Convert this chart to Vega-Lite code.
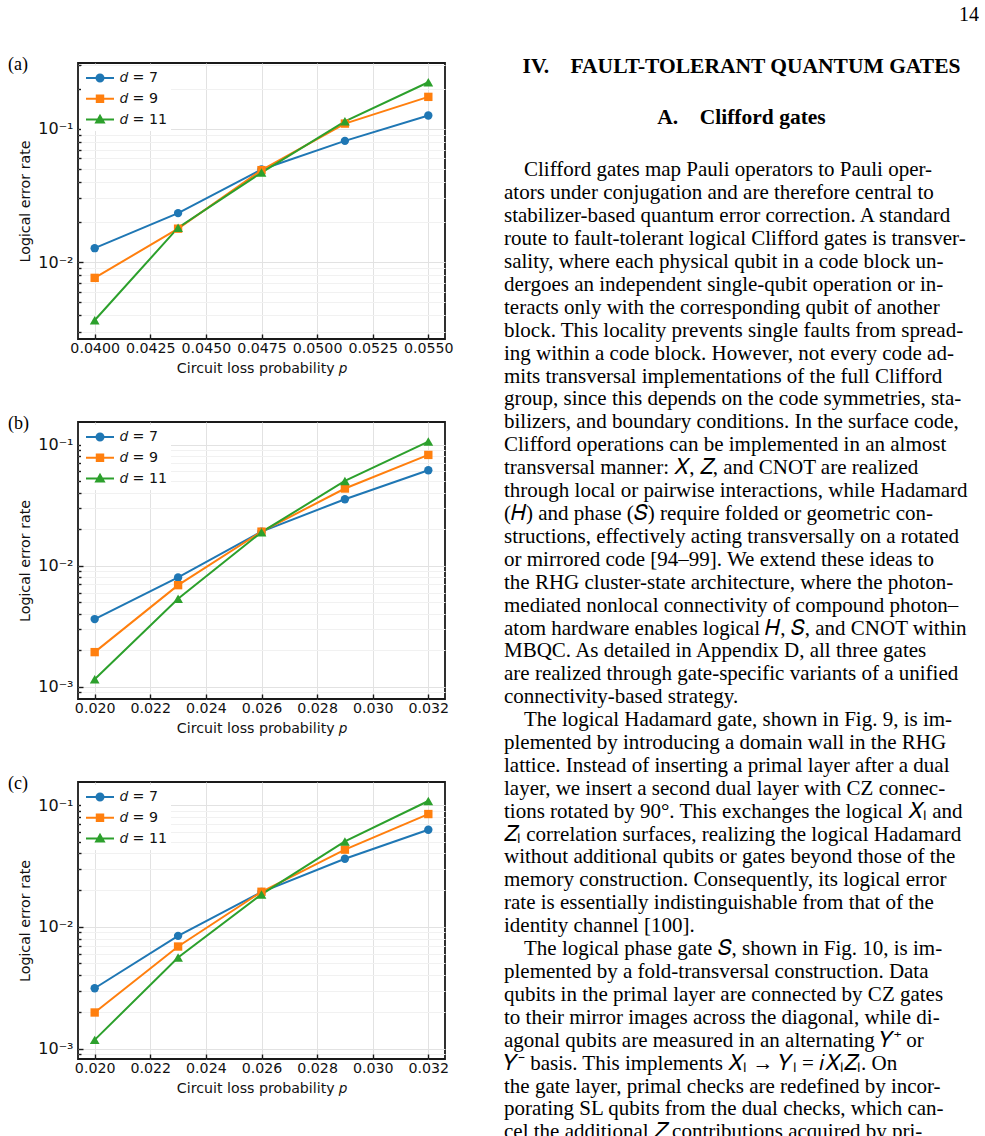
{
  "$schema": "https://vega.github.io/schema/vega-lite/v6.json",
  "background": "white",
  "padding": {"left": 7, "top": 5, "right": 0, "bottom": 0},
  "columns": 2,
  "bounds": "flush",
  "align": "each",
  "spacing": {"row": 83, "column": 59},
  "config": {
    "view": {"stroke": "#1a1a1a", "strokeWidth": 1.8},
    "axis": {"domain": false, "tickSize": -5, "tickWidth": 1.4, "tickColor": "#1a1a1a", "labelFont": "DejaVu Sans", "labelFontSize": 14.2, "labelColor": "#111", "titleFont": "DejaVu Sans", "titleFontSize": 14.2, "titleFontWeight": "normal", "titleColor": "#111", "gridColor": "#e2e2e2", "gridWidth": 1, "labelFlush": false, "labelOverlap": false},
    "axisX": {"labelPadding": 7, "titlePadding": 6},
    "axisY": {"labelPadding": 10, "titlePadding": 5, "labelFontSize": 16},
    "legend": {"orient": "top-left", "offset": 3, "padding": 4, "fillColor": "white", "strokeColor": null, "labelFont": "DejaVu Sans", "labelFontSize": 14.2, "labelColor": "#111", "labelOffset": 19, "rowPadding": 4.8, "symbolSize": 196, "symbolStrokeWidth": 2, "symbolOpacity": 1},
    "title": {"anchor": "start", "frame": "group", "dx": -70, "dy": 14.5, "offset": 0, "baseline": "alphabetic", "font": "Liberation Serif", "fontSize": 18, "fontWeight": "normal", "color": "#000"}
  },
  "datasets": {
    "a": [
      {"p": 0.04, "d": 7, "ler": 0.0127}, {"p": 0.04375, "d": 7, "ler": 0.0233}, {"p": 0.0475, "d": 7, "ler": 0.0495}, {"p": 0.05125, "d": 7, "ler": 0.0813}, {"p": 0.055, "d": 7, "ler": 0.126},
      {"p": 0.04, "d": 9, "ler": 0.0076}, {"p": 0.04375, "d": 9, "ler": 0.0178}, {"p": 0.0475, "d": 9, "ler": 0.049}, {"p": 0.05125, "d": 9, "ler": 0.1096}, {"p": 0.055, "d": 9, "ler": 0.174},
      {"p": 0.04, "d": 11, "ler": 0.00365}, {"p": 0.04375, "d": 11, "ler": 0.0181}, {"p": 0.0475, "d": 11, "ler": 0.047}, {"p": 0.05125, "d": 11, "ler": 0.114}, {"p": 0.055, "d": 11, "ler": 0.224}
    ],
    "b": [
      {"p": 0.02, "d": 7, "ler": 0.00362}, {"p": 0.023, "d": 7, "ler": 0.00799}, {"p": 0.026, "d": 7, "ler": 0.0191}, {"p": 0.029, "d": 7, "ler": 0.0354}, {"p": 0.032, "d": 7, "ler": 0.0614},
      {"p": 0.02, "d": 9, "ler": 0.00193}, {"p": 0.023, "d": 9, "ler": 0.0069}, {"p": 0.026, "d": 9, "ler": 0.0191}, {"p": 0.029, "d": 9, "ler": 0.0434}, {"p": 0.032, "d": 9, "ler": 0.0822},
      {"p": 0.02, "d": 11, "ler": 0.00115}, {"p": 0.023, "d": 11, "ler": 0.00532}, {"p": 0.026, "d": 11, "ler": 0.0189}, {"p": 0.029, "d": 11, "ler": 0.0501}, {"p": 0.032, "d": 11, "ler": 0.106}
    ],
    "c": [
      {"p": 0.02, "d": 7, "ler": 0.00313}, {"p": 0.023, "d": 7, "ler": 0.00843}, {"p": 0.026, "d": 7, "ler": 0.0193}, {"p": 0.029, "d": 7, "ler": 0.0362}, {"p": 0.032, "d": 7, "ler": 0.0627},
      {"p": 0.02, "d": 9, "ler": 0.00198}, {"p": 0.023, "d": 9, "ler": 0.00689}, {"p": 0.026, "d": 9, "ler": 0.0194}, {"p": 0.029, "d": 9, "ler": 0.043}, {"p": 0.032, "d": 9, "ler": 0.0843},
      {"p": 0.02, "d": 11, "ler": 0.00118}, {"p": 0.023, "d": 11, "ler": 0.0056}, {"p": 0.026, "d": 11, "ler": 0.01845}, {"p": 0.029, "d": 11, "ler": 0.0502}, {"p": 0.032, "d": 11, "ler": 0.1079}
    ],
    "text": [
      {"line": -6.79, "kind": "page", "text": "14"},
      {"line": -4.53, "kind": "head", "text": "IV.\u2003FAULT-TOLERANT QUANTUM GATES"},
      {"line": -2.31, "kind": "head", "text": "A.\u2003Clifford gates"},
      {"line": 0, "kind": "first", "text": "Clifford gates map Pauli operators to Pauli oper-"},
      {"line": 1, "kind": "body", "text": "ators under conjugation and are therefore central to"},
      {"line": 2, "kind": "body", "text": "stabilizer-based quantum error correction. A standard"},
      {"line": 3, "kind": "body", "text": "route to fault-tolerant logical Clifford gates is transver-"},
      {"line": 4, "kind": "body", "text": "sality, where each physical qubit in a code block un-"},
      {"line": 5, "kind": "body", "text": "dergoes an independent single-qubit operation or in-"},
      {"line": 6, "kind": "body", "text": "teracts only with the corresponding qubit of another"},
      {"line": 7, "kind": "body", "text": "block. This locality prevents single faults from spread-"},
      {"line": 8, "kind": "body", "text": "ing within a code block. However, not every code ad-"},
      {"line": 9, "kind": "body", "text": "mits transversal implementations of the full Clifford"},
      {"line": 10, "kind": "body", "text": "group, since this depends on the code symmetries, sta-"},
      {"line": 11, "kind": "body", "text": "bilizers, and boundary conditions. In the surface code,"},
      {"line": 12, "kind": "body", "text": "Clifford operations can be implemented in an almost"},
      {"line": 13, "kind": "body", "text": "transversal manner: 𝑋, 𝑍, and CNOT are realized"},
      {"line": 14, "kind": "body", "text": "through local or pairwise interactions, while Hadamard"},
      {"line": 15, "kind": "body", "text": "(𝐻) and phase (𝑆) require folded or geometric con-"},
      {"line": 16, "kind": "body", "text": "structions, effectively acting transversally on a rotated"},
      {"line": 17, "kind": "body", "text": "or mirrored code [94–99]. We extend these ideas to"},
      {"line": 18, "kind": "body", "text": "the RHG cluster-state architecture, where the photon-"},
      {"line": 19, "kind": "body", "text": "mediated nonlocal connectivity of compound photon–"},
      {"line": 20, "kind": "body", "text": "atom hardware enables logical 𝐻, 𝑆, and CNOT within"},
      {"line": 21, "kind": "body", "text": "MBQC. As detailed in Appendix D, all three gates"},
      {"line": 22, "kind": "body", "text": "are realized through gate-specific variants of a unified"},
      {"line": 23, "kind": "body", "text": "connectivity-based strategy."},
      {"line": 24, "kind": "first", "text": "The logical Hadamard gate, shown in Fig. 9, is im-"},
      {"line": 25, "kind": "body", "text": "plemented by introducing a domain wall in the RHG"},
      {"line": 26, "kind": "body", "text": "lattice. Instead of inserting a primal layer after a dual"},
      {"line": 27, "kind": "body", "text": "layer, we insert a second dual layer with CZ connec-"},
      {"line": 28, "kind": "body", "text": "tions rotated by 90°. This exchanges the logical 𝑋ₗ and"},
      {"line": 29, "kind": "body", "text": "𝑍ₗ correlation surfaces, realizing the logical Hadamard"},
      {"line": 30, "kind": "body", "text": "without additional qubits or gates beyond those of the"},
      {"line": 31, "kind": "body", "text": "memory construction. Consequently, its logical error"},
      {"line": 32, "kind": "body", "text": "rate is essentially indistinguishable from that of the"},
      {"line": 33, "kind": "body", "text": "identity channel [100]."},
      {"line": 34, "kind": "first", "text": "The logical phase gate 𝑆, shown in Fig. 10, is im-"},
      {"line": 35, "kind": "body", "text": "plemented by a fold-transversal construction. Data"},
      {"line": 36, "kind": "body", "text": "qubits in the primal layer are connected by CZ gates"},
      {"line": 37, "kind": "body", "text": "to their mirror images across the diagonal, while di-"},
      {"line": 38, "kind": "body", "text": "agonal qubits are measured in an alternating 𝑌⁺ or"},
      {"line": 39, "kind": "body", "text": "𝑌⁻ basis. This implements 𝑋ₗ → 𝑌ₗ = 𝑖𝑋ₗ𝑍ₗ. On"},
      {"line": 40, "kind": "body", "text": "the gate layer, primal checks are redefined by incor-"},
      {"line": 41, "kind": "body", "text": "porating SL qubits from the dual checks, which can-"},
      {"line": 42, "kind": "body", "text": "cel the additional 𝑍 contributions acquired by pri-"}
    ]
  },
  "concat": [
    {
      "title": "(a)",
      "width": 367, "height": 276,
      "data": {"name": "a"},
      "layer": [
        {"mark": {"type": "line", "strokeWidth": 2},
         "encoding": {
           "x": {"field": "p", "type": "quantitative", "scale": {"domain": [0.03925, 0.05575], "nice": false, "zero": false}, "axis": {"values": [0.04, 0.0425, 0.045, 0.0475, 0.05, 0.0525, 0.055], "format": ".4f", "title": "Circuit loss probability 𝑝", "grid": true}},
           "y": {"field": "ler", "type": "quantitative", "scale": {"type": "log", "domain": [0.00264, 0.3126], "nice": false}, "axis": {"orient": "left", "values": [0.01, 0.1], "labelExpr": "datum.value > 0.05 ? '10⁻¹' : datum.value > 0.005 ? '10⁻²' : '10⁻³'", "title": "Logical error rate", "grid": true}},
           "color": {"field": "d", "type": "nominal", "scale": {"domain": [7, 9, 11], "range": ["#1f77b4", "#ff7f0e", "#2ca02c"]}, "legend": null}
         }},
        {"mark": {"type": "point", "filled": true, "opacity": 1},
         "encoding": {
           "x": {"field": "p", "type": "quantitative", "axis": {"values": [0.04, 0.0425, 0.045, 0.0475, 0.05, 0.0525, 0.055], "format": ".4f", "title": "Circuit loss probability 𝑝", "grid": true}},
           "y": {"field": "ler", "type": "quantitative", "axis": {"orient": "left", "values": [0.003, 0.004, 0.005, 0.006, 0.007, 0.008, 0.009, 0.02, 0.03, 0.04, 0.05, 0.06, 0.07, 0.08, 0.09, 0.2, 0.3], "labels": false, "title": null, "tickSize": -3, "grid": true, "gridColor": "#f1f1f1"}},
           "color": {"field": "d", "type": "nominal", "scale": {"domain": [7, 9, 11], "range": ["#1f77b4", "#ff7f0e", "#2ca02c"]}, "legend": null},
           "shape": {"field": "d", "type": "nominal", "scale": {"domain": [7, 9, 11], "range": ["circle", "square", "triangle-up"]}, "legend": null},
           "size": {"condition": {"test": "datum.d === 11", "value": 95}, "value": 70}
         }},
        {"mark": {"type": "point", "filled": false, "opacity": 0, "strokeWidth": 2, "size": 196},
         "encoding": {
           "color": {"field": "d", "type": "nominal", "scale": {"range": ["#1f77b4", "#ff7f0e", "#2ca02c"]}, "legend": {"title": null, "labelExpr": "'𝑑 = ' + datum.label"}},
           "shape": {"field": "d", "type": "nominal", "scale": {"range": ["M-1,0H3M1.5,0A0.5,0.5,0,1,1,0.5,0A0.5,0.5,0,1,1,1.5,0ZM1.26,0A0.26,0.26,0,1,1,0.74,0A0.26,0.26,0,1,1,1.26,0ZM1.06,0A0.06,0.06,0,1,1,0.94,0A0.06,0.06,0,1,1,1.06,0Z", "M-1,0H3M0.54,-0.46H1.46V0.46H0.54ZM0.76,-0.24H1.24V0.24H0.76ZM0.96,-0.04H1.04V0.04H0.96Z", "M-1,0H3M1,-0.55L1.55,0.4H0.45ZM1,-0.23L1.275,0.242H0.725ZM1,-0.01L1.08,0.13H0.92Z"]}, "legend": {"title": null, "labelExpr": "'𝑑 = ' + datum.label"}}
         }}
      ],
      "resolve": {"scale": {"shape": "independent", "color": "independent"}, "axis": {"y": "independent"}}
    },
    {
      "width": 475, "height": 276,
      "view": {"stroke": null},
      "data": {"name": "text"},
      "transform": [{"filter": "datum.line < 17"}],
      "encoding": {"y": {"field": "line", "type": "quantitative", "scale": {"domain": [-4.9563, 7.0961], "reverse": true, "zero": false, "nice": false}, "axis": null}},
      "layer": [
        {"transform": [{"filter": "datum.kind === 'body'"}], "mark": {"type": "text", "align": "left", "baseline": "alphabetic", "font": "Liberation Serif", "fontSize": 21, "color": "#000"}, "encoding": {"x": {"datum": 0, "type": "quantitative", "scale": {"domain": [0, 1]}, "axis": null}, "text": {"field": "text"}}},
        {"transform": [{"filter": "datum.kind === 'first'"}], "mark": {"type": "text", "align": "left", "baseline": "alphabetic", "font": "Liberation Serif", "fontSize": 21, "color": "#000"}, "encoding": {"x": {"datum": 0.0421, "type": "quantitative", "scale": {"domain": [0, 1]}, "axis": null}, "text": {"field": "text"}}},
        {"transform": [{"filter": "datum.kind === 'head'"}], "mark": {"type": "text", "align": "center", "baseline": "alphabetic", "font": "Liberation Serif", "fontSize": 21.5, "fontWeight": "bold", "color": "#000"}, "encoding": {"x": {"datum": 0.5, "type": "quantitative", "scale": {"domain": [0, 1]}, "axis": null}, "text": {"field": "text"}}},
        {"transform": [{"filter": "datum.kind === 'page'"}], "mark": {"type": "text", "align": "right", "baseline": "alphabetic", "font": "Liberation Serif", "fontSize": 20, "color": "#000"}, "encoding": {"x": {"datum": 1, "type": "quantitative", "scale": {"domain": [0, 1]}, "axis": null}, "text": {"field": "text"}}}
      ]
    },
    {
      "title": "(b)",
      "width": 367, "height": 277,
      "data": {"name": "b"},
      "layer": [
        {"mark": {"type": "line", "strokeWidth": 2},
         "encoding": {
           "x": {"field": "p", "type": "quantitative", "scale": {"domain": [0.0194, 0.0326], "nice": false, "zero": false}, "axis": {"values": [0.02, 0.022, 0.024, 0.026, 0.028, 0.03, 0.032], "format": ".3f", "title": "Circuit loss probability 𝑝", "grid": true}},
           "y": {"field": "ler", "type": "quantitative", "scale": {"type": "log", "domain": [0.000791, 0.1538], "nice": false}, "axis": {"orient": "left", "values": [0.001, 0.01, 0.1], "labelExpr": "datum.value > 0.05 ? '10⁻¹' : datum.value > 0.005 ? '10⁻²' : '10⁻³'", "title": "Logical error rate", "grid": true}},
           "color": {"field": "d", "type": "nominal", "scale": {"domain": [7, 9, 11], "range": ["#1f77b4", "#ff7f0e", "#2ca02c"]}, "legend": null}
         }},
        {"mark": {"type": "point", "filled": true, "opacity": 1},
         "encoding": {
           "x": {"field": "p", "type": "quantitative", "axis": {"values": [0.02, 0.022, 0.024, 0.026, 0.028, 0.03, 0.032], "format": ".3f", "title": "Circuit loss probability 𝑝", "grid": true}},
           "y": {"field": "ler", "type": "quantitative", "axis": {"orient": "left", "values": [0.0009, 0.002, 0.003, 0.004, 0.005, 0.006, 0.007, 0.008, 0.009, 0.02, 0.03, 0.04, 0.05, 0.06, 0.07, 0.08, 0.09], "labels": false, "title": null, "tickSize": -3, "grid": true, "gridColor": "#f1f1f1"}},
           "color": {"field": "d", "type": "nominal", "scale": {"domain": [7, 9, 11], "range": ["#1f77b4", "#ff7f0e", "#2ca02c"]}, "legend": null},
           "shape": {"field": "d", "type": "nominal", "scale": {"domain": [7, 9, 11], "range": ["circle", "square", "triangle-up"]}, "legend": null},
           "size": {"condition": {"test": "datum.d === 11", "value": 95}, "value": 70}
         }},
        {"mark": {"type": "point", "filled": false, "opacity": 0, "strokeWidth": 2, "size": 196},
         "encoding": {
           "color": {"field": "d", "type": "nominal", "scale": {"range": ["#1f77b4", "#ff7f0e", "#2ca02c"]}, "legend": {"title": null, "labelExpr": "'𝑑 = ' + datum.label"}},
           "shape": {"field": "d", "type": "nominal", "scale": {"range": ["M-1,0H3M1.5,0A0.5,0.5,0,1,1,0.5,0A0.5,0.5,0,1,1,1.5,0ZM1.26,0A0.26,0.26,0,1,1,0.74,0A0.26,0.26,0,1,1,1.26,0ZM1.06,0A0.06,0.06,0,1,1,0.94,0A0.06,0.06,0,1,1,1.06,0Z", "M-1,0H3M0.54,-0.46H1.46V0.46H0.54ZM0.76,-0.24H1.24V0.24H0.76ZM0.96,-0.04H1.04V0.04H0.96Z", "M-1,0H3M1,-0.55L1.55,0.4H0.45ZM1,-0.23L1.275,0.242H0.725ZM1,-0.01L1.08,0.13H0.92Z"]}, "legend": {"title": null, "labelExpr": "'𝑑 = ' + datum.label"}}
         }}
      ],
      "resolve": {"scale": {"shape": "independent", "color": "independent"}, "axis": {"y": "independent"}}
    },
    {
      "width": 475, "height": 277,
      "view": {"stroke": null},
      "data": {"name": "text"},
      "transform": [{"filter": "datum.line >= 17 && datum.line < 34"}],
      "encoding": {"y": {"field": "line", "type": "quantitative", "scale": {"domain": [10.7205, 22.8166], "reverse": true, "zero": false, "nice": false}, "axis": null}},
      "layer": [
        {"transform": [{"filter": "datum.kind === 'body'"}], "mark": {"type": "text", "align": "left", "baseline": "alphabetic", "font": "Liberation Serif", "fontSize": 21, "color": "#000"}, "encoding": {"x": {"datum": 0, "type": "quantitative", "scale": {"domain": [0, 1]}, "axis": null}, "text": {"field": "text"}}},
        {"transform": [{"filter": "datum.kind === 'first'"}], "mark": {"type": "text", "align": "left", "baseline": "alphabetic", "font": "Liberation Serif", "fontSize": 21, "color": "#000"}, "encoding": {"x": {"datum": 0.0421, "type": "quantitative", "scale": {"domain": [0, 1]}, "axis": null}, "text": {"field": "text"}}}
      ]
    },
    {
      "title": "(c)",
      "width": 367, "height": 277,
      "data": {"name": "c"},
      "layer": [
        {"mark": {"type": "line", "strokeWidth": 2},
         "encoding": {
           "x": {"field": "p", "type": "quantitative", "scale": {"domain": [0.0194, 0.0326], "nice": false, "zero": false}, "axis": {"values": [0.02, 0.022, 0.024, 0.026, 0.028, 0.03, 0.032], "format": ".3f", "title": "Circuit loss probability 𝑝", "grid": true}},
           "y": {"field": "ler", "type": "quantitative", "scale": {"type": "log", "domain": [0.000822, 0.1545], "nice": false}, "axis": {"orient": "left", "values": [0.001, 0.01, 0.1], "labelExpr": "datum.value > 0.05 ? '10⁻¹' : datum.value > 0.005 ? '10⁻²' : '10⁻³'", "title": "Logical error rate", "grid": true}},
           "color": {"field": "d", "type": "nominal", "scale": {"domain": [7, 9, 11], "range": ["#1f77b4", "#ff7f0e", "#2ca02c"]}, "legend": null}
         }},
        {"mark": {"type": "point", "filled": true, "opacity": 1},
         "encoding": {
           "x": {"field": "p", "type": "quantitative", "axis": {"values": [0.02, 0.022, 0.024, 0.026, 0.028, 0.03, 0.032], "format": ".3f", "title": "Circuit loss probability 𝑝", "grid": true}},
           "y": {"field": "ler", "type": "quantitative", "axis": {"orient": "left", "values": [0.0009, 0.002, 0.003, 0.004, 0.005, 0.006, 0.007, 0.008, 0.009, 0.02, 0.03, 0.04, 0.05, 0.06, 0.07, 0.08, 0.09], "labels": false, "title": null, "tickSize": -3, "grid": true, "gridColor": "#f1f1f1"}},
           "color": {"field": "d", "type": "nominal", "scale": {"domain": [7, 9, 11], "range": ["#1f77b4", "#ff7f0e", "#2ca02c"]}, "legend": null},
           "shape": {"field": "d", "type": "nominal", "scale": {"domain": [7, 9, 11], "range": ["circle", "square", "triangle-up"]}, "legend": null},
           "size": {"condition": {"test": "datum.d === 11", "value": 95}, "value": 70}
         }},
        {"mark": {"type": "point", "filled": false, "opacity": 0, "strokeWidth": 2, "size": 196},
         "encoding": {
           "color": {"field": "d", "type": "nominal", "scale": {"range": ["#1f77b4", "#ff7f0e", "#2ca02c"]}, "legend": {"title": null, "labelExpr": "'𝑑 = ' + datum.label"}},
           "shape": {"field": "d", "type": "nominal", "scale": {"range": ["M-1,0H3M1.5,0A0.5,0.5,0,1,1,0.5,0A0.5,0.5,0,1,1,1.5,0ZM1.26,0A0.26,0.26,0,1,1,0.74,0A0.26,0.26,0,1,1,1.26,0ZM1.06,0A0.06,0.06,0,1,1,0.94,0A0.06,0.06,0,1,1,1.06,0Z", "M-1,0H3M0.54,-0.46H1.46V0.46H0.54ZM0.76,-0.24H1.24V0.24H0.76ZM0.96,-0.04H1.04V0.04H0.96Z", "M-1,0H3M1,-0.55L1.55,0.4H0.45ZM1,-0.23L1.275,0.242H0.725ZM1,-0.01L1.08,0.13H0.92Z"]}, "legend": {"title": null, "labelExpr": "'𝑑 = ' + datum.label"}}
         }}
      ],
      "resolve": {"scale": {"shape": "independent", "color": "independent"}, "axis": {"y": "independent"}}
    },
    {
      "width": 475, "height": 277,
      "view": {"stroke": null},
      "data": {"name": "text"},
      "transform": [{"filter": "datum.line >= 34"}],
      "encoding": {"y": {"field": "line", "type": "quantitative", "scale": {"domain": [26.441, 38.5371], "reverse": true, "zero": false, "nice": false}, "axis": null}},
      "layer": [
        {"transform": [{"filter": "datum.kind === 'body'"}], "mark": {"type": "text", "align": "left", "baseline": "alphabetic", "font": "Liberation Serif", "fontSize": 21, "color": "#000"}, "encoding": {"x": {"datum": 0, "type": "quantitative", "scale": {"domain": [0, 1]}, "axis": null}, "text": {"field": "text"}}},
        {"transform": [{"filter": "datum.kind === 'first'"}], "mark": {"type": "text", "align": "left", "baseline": "alphabetic", "font": "Liberation Serif", "fontSize": 21, "color": "#000"}, "encoding": {"x": {"datum": 0.0421, "type": "quantitative", "scale": {"domain": [0, 1]}, "axis": null}, "text": {"field": "text"}}}
      ]
    }
  ]
}
